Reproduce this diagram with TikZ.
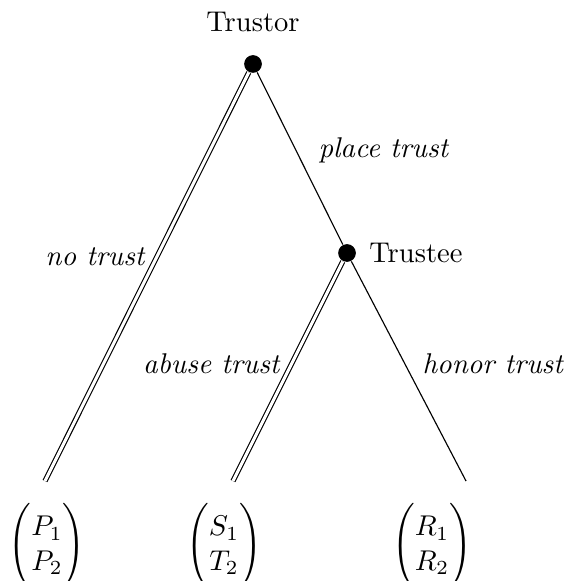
\documentclass[tikz,border=0pt]{standalone}
\usepackage{amsmath, amssymb}
\usepackage{tikz}
\usetikzlibrary{positioning}
\usetikzlibrary{calc}

\tikzset{
  player/.style={circle, fill=black, inner sep=0pt, minimum size=6.2pt},
  single/.style={line width=0.4pt},
  bestmove/.style={line width=0.4pt, double, double distance=1.05pt},
  movelbl/.style={font=\itshape, inner sep=0pt},
  payoff/.style={inner sep=0pt}
}
\newcommand{\payvec}[2]{$\Bigg(\begin{matrix} #1 \\ #2 \end{matrix}\Bigg)$}

\begin{document}
\begin{tikzpicture}[x=0.35pt, y=-0.35pt]
\useasboundingbox (0,0) rectangle (564,581);

\node[player] (trustor) at (253,64) {};
\node[player] (trustee) at (347,253) {};
\node[above=4.6pt of trustor] (trustorlbl) {Trustor};
\node[right=1pt of trustee] (trusteelbl) {Trustee};

\coordinate (nt) at (45,481);
\coordinate (ab) at (233,481);
\coordinate (ho) at (466,481);

\draw[bestmove] (trustor) -- (nt);
\draw[single] (trustor) -- (trustee);
\draw[bestmove] (trustee) -- (ab);
\draw[single] (trustee) -- (ho);

\node[movelbl, anchor=east] (ntlbl) at (145,257) {no trust};
\node[movelbl, anchor=west] (ptlbl) at (318,150) {place trust};
\node[movelbl, anchor=east] (ablbl) at (280,364) {abuse trust};
\node[movelbl, anchor=west] (holbl) at (422,364) {honor trust};

\node[payoff] (paynt) at (47,546) {\payvec{P_1}{P_2}};
\node[payoff] (payab) at (224,546) {\payvec{S_1}{T_2}};
\node[payoff] (payho) at (432,546) {\payvec{R_1}{R_2}};
\end{tikzpicture}
\end{document}
